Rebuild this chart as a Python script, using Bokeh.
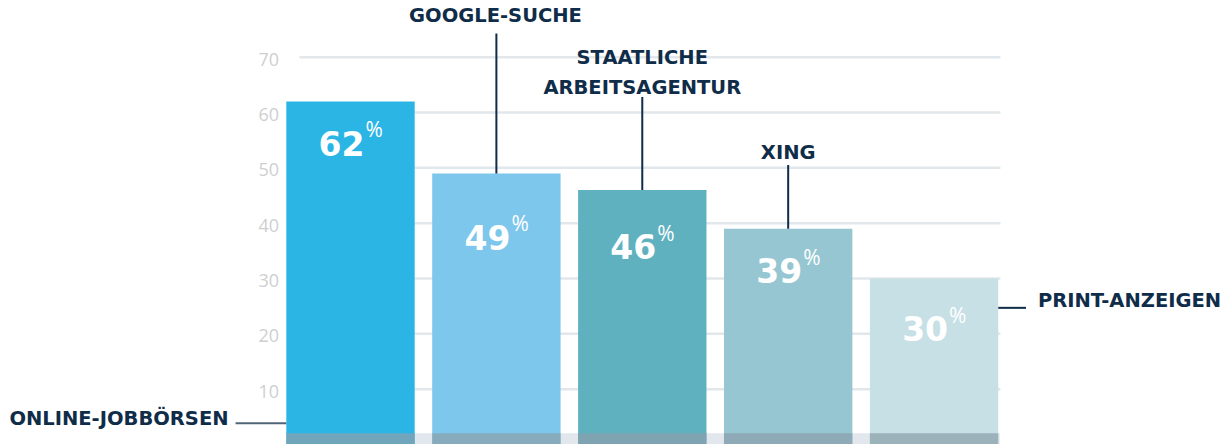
from bokeh.plotting import figure
from bokeh.models import Range1d
from bokeh.core.properties import value
from bokeh.embed import file_html
from bokeh.resources import INLINE

# ---------------- data ----------------
categories = ["ONLINE-JOBBÖRSEN", "GOOGLE-SUCHE", "STAATLICHE\nARBEITSAGENTUR", "XING", "PRINT-ANZEIGEN"]
shares = [62, 49, 46, 39, 30]
tick_values = [10, 20, 30, 40, 50, 60, 70]
tick_labels = ["10", "20", "30", "40", "50", "60", "70"]

# ---------------- styling ----------------
bar_colors = ["#2bb5e4", "#7dc6ec", "#5fb1c0", "#96c6d2", "#c6e0e6"]
navy = "#0f2c48"
BAR_W = 0.88
xs = list(range(len(shares)))

p = figure(width=1222, height=444,
           x_range=Range1d(-2.399, 5.977), y_range=Range1d(0, 80.25),
           x_axis_type=None, y_axis_type=None,
           min_border=0, toolbar_location=None, output_backend="svg")
p.outline_line_color = None
p.grid.visible = False
p.background_fill_color = "white"

# gridlines (drawn behind the bars)
n = len(tick_values)
p.segment(x0=[-0.35] * n, x1=[4.455] * n, y0=tick_values, y1=tick_values,
          line_color="#e2e7eb", line_width=2.5)
p.text(x=[-0.49] * n, y=tick_values, text=tick_labels,
       text_align="right", text_baseline="middle", y_offset=2,
       text_font=value("Open Sans"), text_font_size="18px", text_color="#cfcfcf")

# bottom band
band_top = 2.05
p.quad(left=[-0.44], right=[4.45], bottom=[0], top=[band_top],
       fill_color="#e1e7ec", line_color=None)

# bars
p.vbar(x=xs, top=shares, bottom=0, width=BAR_W, fill_color=bar_colors, line_color=None)

# darker overlay of band on bars
p.quad(left=[x - BAR_W / 2 for x in xs], right=[x + BAR_W / 2 for x in xs],
       bottom=[0] * len(xs), top=[band_top] * len(xs),
       fill_color="#8ba0aa", fill_alpha=0.72, line_color=None)

# value labels inside bars
label_offsets = [42, 64, 57, 42, 50]
p.text(x=xs, y=shares, text=[str(v) for v in shares],
       x_offset=14, y_offset=label_offsets,
       text_align="right", text_baseline="middle",
       text_font=value("DejaVu Sans"), text_font_style="bold",
       text_font_size="33px", text_color="white")
p.text(x=xs, y=shares, text=["%"] * len(xs),
       x_offset=15, y_offset=[o - 14 for o in label_offsets],
       text_align="left", text_baseline="middle",
       text_font=value("Open Sans"), text_font_size="21px", text_color="white")

# leader lines (vertical) for GOOGLE, STAATLICHE, XING
lead_idx = [1, 2, 3]
lead_tops = [74.3, 62.8, 50.5]
p.segment(x0=lead_idx, x1=lead_idx, y0=[shares[i] for i in lead_idx], y1=lead_tops,
          line_color=navy, line_width=2)
# horizontal leaders
p.segment(x0=[4.44], x1=[4.63], y0=[24.7], y1=[24.7], line_color=navy, line_width=2)
p.segment(x0=[-0.788], x1=[-0.44], y0=[3.85], y1=[3.85], line_color="#506678", line_width=2)

# category labels
cat_x = [-0.836, 0.994, 2.0, 3.0, 4.712]
cat_y = [4.75, 77.5, 67.24, 52.8, 26.1]
cat_align = ["right", "center", "center", "center", "left"]
p.text(x=cat_x, y=cat_y, text=categories, text_align=cat_align,
       text_baseline="middle", text_line_height=1.34,
       text_font=value("DejaVu Sans"), text_font_style="bold",
       text_font_size="19.5px", text_color=navy)

open("out.html", "w").write(file_html(p, INLINE))
